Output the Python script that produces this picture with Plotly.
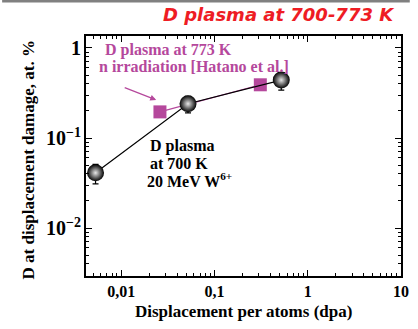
import plotly.graph_objects as go

# W ion irradiation, D plasma at 700 K
w_dpa = [0.0053, 0.052, 0.52]
w_d = [0.041, 0.24, 0.44]
w_err_plus = [0.010, 0.05, 0.09]
w_err_minus = [0.010, 0.05, 0.10]

# n irradiation, D plasma at 773 K (Hatano et al.)
n_dpa = [0.026, 0.31]
n_d = [0.195, 0.39]

# tick labels shown (0,01 0,1 1 10 on x; 10^-2 10^-1 10^0 on y) -> one tick per decade
x_tick_decade = 1
y_tick_decade = 1

PURPLE = "#b5489c"
SERIF = "Liberation Serif"

L, R, T, B = 86, 9, 36, 53
W, H = 418, 329
PW, PH = W - L - R, H - T - B

def px(x):
    return (x - L) / PW

def py(y):
    return (H - B - y) / PH

fig = go.Figure()

fig.add_trace(go.Scatter(
    x=n_dpa, y=n_d, mode="lines+markers",
    line=dict(color=PURPLE, width=1.2),
    marker=dict(symbol="square", size=13, color=PURPLE),
    showlegend=False,
))

fig.add_trace(go.Scatter(
    x=w_dpa, y=w_d, mode="lines+markers",
    line=dict(color="black", width=1.2),
    marker=dict(symbol="circle", size=17, color="black",
                gradient=dict(type="radial", color="#e8e8e8"),
                line=dict(width=0)),
    error_y=dict(type="data", symmetric=False, array=w_err_plus,
                 arrayminus=w_err_minus, color="black", thickness=1.2, width=3),
    showlegend=False,
))

fig.update_xaxes(type="log", showline=True, linecolor="black", linewidth=1.5, mirror="allticks",
                 ticks="inside", ticklen=6, tickwidth=1.2, tickcolor="black", gridcolor="white",
                 dtick=x_tick_decade,
                 minor=dict(ticks="inside", ticklen=3, tickwidth=1, tickcolor="black"),
                 tickfont=dict(family=SERIF, size=16, color="black", weight=700),
                 range=[-2.378, 1.0])
fig.update_yaxes(type="log", showline=True, linecolor="black", linewidth=1.5, mirror="allticks",
                 ticks="inside", ticklen=6, tickwidth=1.2, tickcolor="black", gridcolor="white",
                 dtick=y_tick_decade, exponentformat="power",
                 minor=dict(ticks="inside", ticklen=3, tickwidth=1, tickcolor="black"),
                 tickfont=dict(family=SERIF, size=16, color="black", weight=700),
                 range=[-2.533, 0.133])

ann = []
ann.append(dict(xref="paper", yref="paper", x=px(405), y=py(14), xanchor="right", yanchor="middle",
                text="<b><i>D plasma at 700-773 K</i></b>", showarrow=False,
                font=dict(family="DejaVu Sans", size=18, color="#ee1c24")))
ann.append(dict(xref="paper", yref="paper", x=px(248), y=py(311), xanchor="center", yanchor="middle",
                text="<b>Displacement per atoms (dpa)</b>", showarrow=False,
                font=dict(family=SERIF, size=17, color="black")))
ann.append(dict(xref="paper", yref="paper", x=px(27), y=py(160), xanchor="center", yanchor="middle",
                text="<b>D at displacement damage, at. %</b>", showarrow=False, textangle=-90,
                font=dict(family=SERIF, size=17, color="black")))
ann.append(dict(xref="paper", yref="paper", x=px(103), y=py(50), xanchor="left", yanchor="middle",
                text="<b>D plasma at 773 K</b>", showarrow=False,
                font=dict(family=SERIF, size=16, color=PURPLE)))
ann.append(dict(xref="paper", yref="paper", x=px(97), y=py(66), xanchor="left", yanchor="middle",
                text="<b>n irradiation [Hatano et al.]</b>", showarrow=False,
                font=dict(family=SERIF, size=16, color=PURPLE)))
ann.append(dict(xref="paper", yref="paper", x=px(158), y=py(100), ax=-33, ay=-13,
                text="", showarrow=True, arrowhead=2, arrowsize=1, arrowwidth=1.2, arrowcolor=PURPLE))
for txt, xx, yy in [("D plasma", 150, 146), ("at 700 K", 150, 163), ("20 MeV W<sup>6+</sup>", 147, 180)]:
    ann.append(dict(xref="paper", yref="paper", x=px(xx), y=py(yy), xanchor="left", yanchor="middle",
                    text="<b>" + txt + "</b>", showarrow=False,
                    font=dict(family=SERIF, size=16, color="black")))

fig.update_layout(
    width=W, height=H, margin=dict(l=L, r=R, t=T, b=B),
    plot_bgcolor="white", separators=",.",
    annotations=ann,
    shapes=[dict(type="rect", xref="paper", yref="paper", x0=px(0), x1=px(W),
                 y0=py(2.5), y1=py(0), fillcolor="#808080", line=dict(width=0))],
)

fig.write_html("out.html")
